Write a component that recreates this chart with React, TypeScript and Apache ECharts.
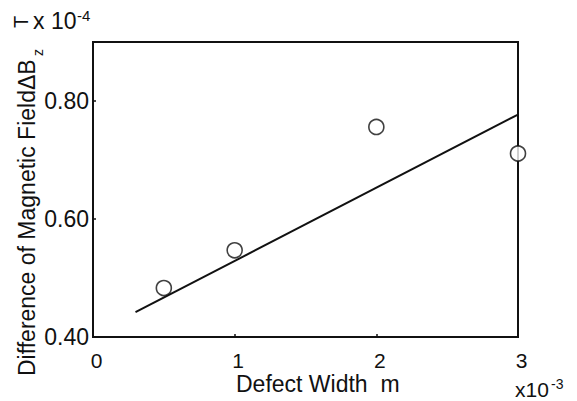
import React, { useEffect, useRef } from "react";
import * as echarts from "echarts";

const FONT = '"Liberation Sans", Arial, Helvetica, sans-serif';

// Measured points (x in 10^-3 m, y in 10^-4 T)
const measuredX = [0.5, 1, 2, 3];
const measuredY = [0.483, 0.547, 0.756, 0.711];
// Fitted line endpoints
const fitX = [0.3, 3];
const fitY = [0.442, 0.777];

const xTicks = [0, 1, 2, 3];
const yTicks = [0.4, 0.6, 0.8];

export default function App() {
  const ref = useRef<HTMLDivElement>(null);
  useEffect(() => {
    if (!ref.current) return;
    const chart = echarts.init(ref.current, null, { renderer: "svg" });
    const scatterData = measuredX.map((x, i) => [x, measuredY[i]]);
    const lineData = fitX.map((x, i) => [x, fitY[i]]);
    const txt = (x: number, y: number, text: string, size: number, rot = 0) => ({
      type: "text",
      x,
      y,
      rotation: rot,
      style: {
        text,
        font: `${size}px ${FONT}`,
        fill: "#111",
        textAlign: "left",
        textVerticalAlign: "top",
      },
    });
    chart.setOption({
      animation: false,
      backgroundColor: "#ffffff",
      grid: {
        left: 93,
        right: 59,
        top: 42,
        bottom: 64,
        show: true,
        borderColor: "#111",
        borderWidth: 2,
        backgroundColor: "transparent",
      },
      xAxis: {
        type: "value",
        min: 0,
        max: 3,
        interval: 1,
        axisLine: { show: false },
        splitLine: { show: false },
        axisTick: { show: true, inside: true, length: 3, lineStyle: { color: "#111", width: 1.5 } },
        axisLabel: {
          margin: 13,
          fontSize: 21,
          fontFamily: FONT,
          color: "#111",
          padding: [0, 0, 0, 7],
          formatter: (v: number) => (xTicks.includes(v) ? String(v) : ""),
        },
      },
      yAxis: {
        type: "value",
        min: 0.4,
        max: 0.9,
        interval: 0.2,
        axisLine: { show: false },
        splitLine: { show: false },
        axisTick: { show: true, inside: true, length: 3, lineStyle: { color: "#111", width: 1.5 } },
        axisLabel: {
          margin: 4,
          fontSize: 23,
          fontFamily: FONT,
          color: "#111",
          formatter: (v: number) =>
            yTicks.some((t) => Math.abs(t - v) < 1e-9) ? v.toFixed(2) : "",
        },
      },
      series: [
        {
          type: "line",
          data: lineData,
          showSymbol: false,
          symbol: "none",
          lineStyle: { color: "#111", width: 2 },
          z: 2,
        },
        {
          type: "scatter",
          data: scatterData,
          symbol: "circle",
          symbolSize: 15,
          itemStyle: { color: "#ffffff", borderColor: "#111", borderWidth: 1.6 },
          z: 3,
        },
      ],
      graphic: [
        txt(15, 376, "Difference of Magnetic FieldΔB", 23, Math.PI / 2),
        txt(31, 56, "z", 14, Math.PI / 2),
        txt(11, 28, "T", 20, Math.PI / 2),
        txt(33, 9, "x 10", 23),
        txt(77, 8, "-4", 15),
        txt(236, 372, "Defect Width  m", 23),
        txt(515, 379, "x10", 21),
        txt(551, 377, "-3", 14),
      ],
    });
    return () => chart.dispose();
  }, []);
  return (
    <div
      ref={ref}
      style={{ position: "fixed", left: 0, top: 0, width: 577, height: 401, background: "#fff" }}
    />
  );
}
